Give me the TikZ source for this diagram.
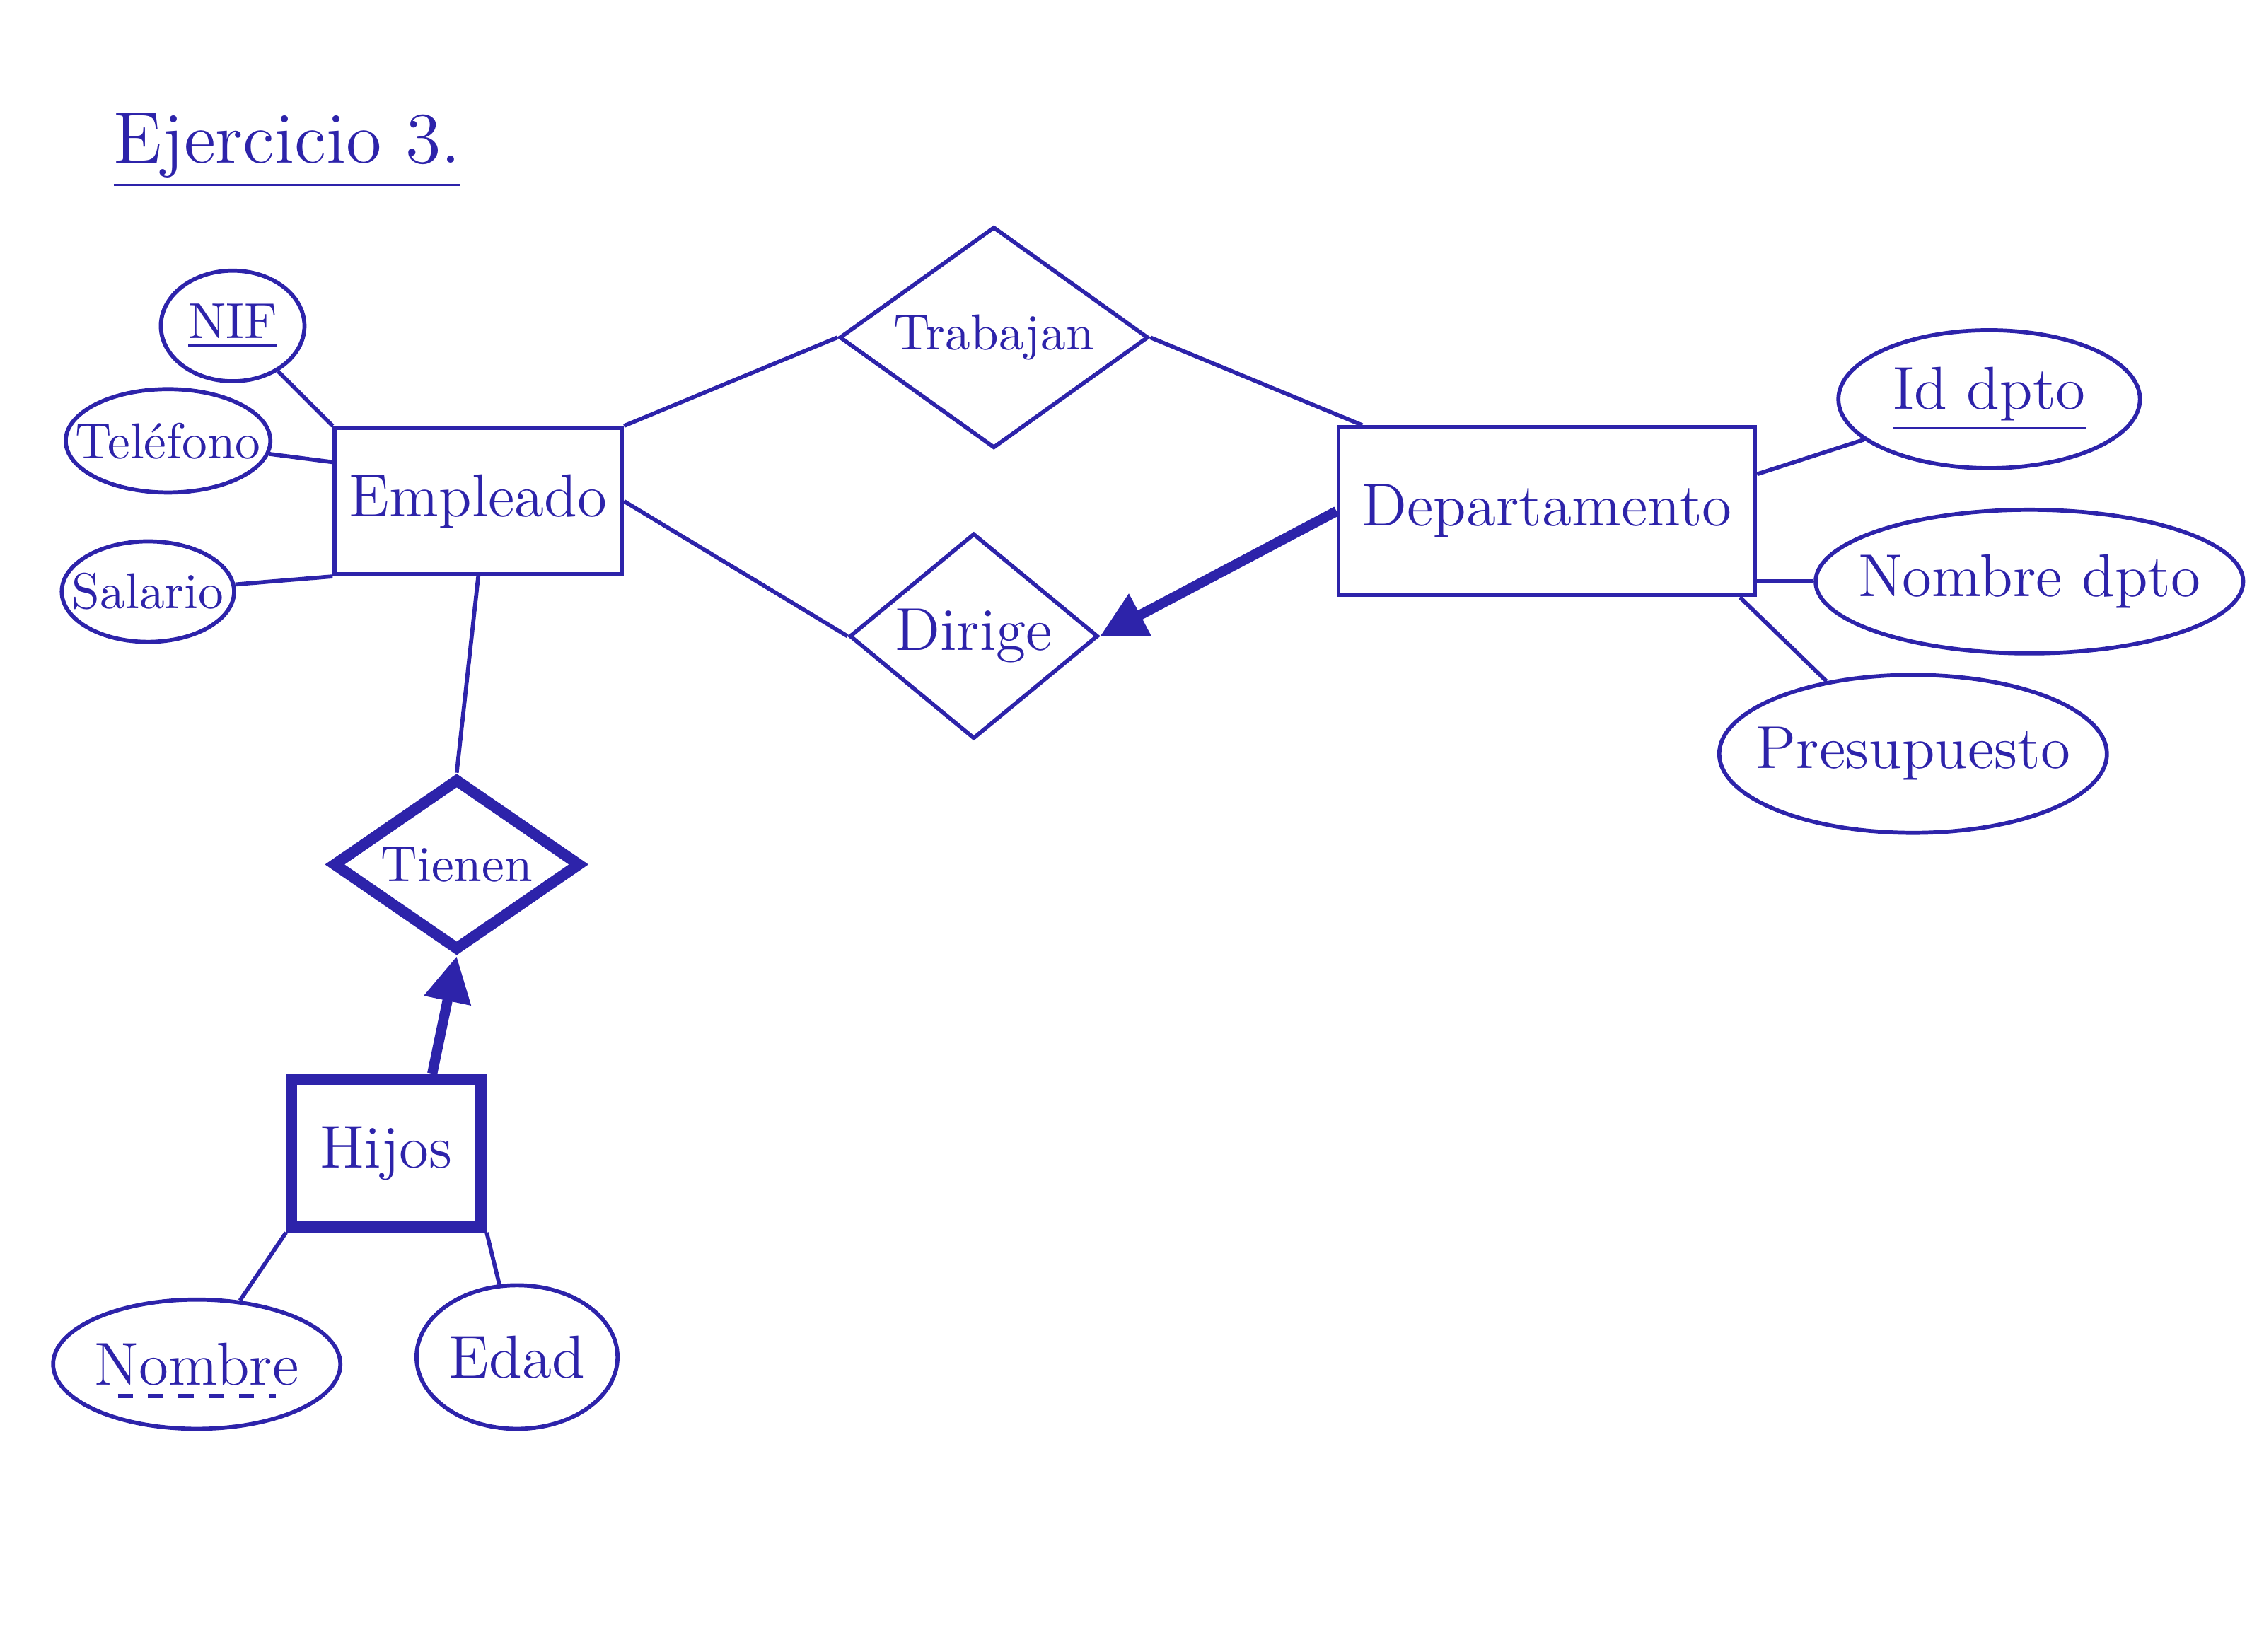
\documentclass[tikz,border=0pt]{standalone}
\usepackage{tikz}
\usetikzlibrary{arrows.meta,calc,positioning,shapes.geometric}
\usepackage{xcolor}
\definecolor{ink}{RGB}{45,35,170}

\begin{document}
\begin{tikzpicture}[every node/.style={font=\large, text=ink},
  entity/.style={draw=ink, thick, rectangle, inner sep=0pt},
  weakent/.style={draw=ink, line width=2.2pt, rectangle, inner sep=0pt},
  attr/.style={draw=ink, thick, ellipse, inner xsep=-4pt, font=\normalsize},
  rel/.style={draw=ink, thick, diamond, aspect=1.4, inner sep=0pt, font=\normalsize},
  weakrel/.style={draw=ink, line width=2.2pt, diamond, aspect=1.4, inner sep=0pt, font=\normalsize},
  link/.style={draw=ink, thick},
  card/.style={draw=ink, line width=2pt, -{Triangle[length=9pt,width=9pt]}}]
  \useasboundingbox (0,0) rectangle (15.68,11.5);
  \node (title) at (2.0,10.45) {\Large\underline{Ejercicio 3.}};
  % entities
  \node[entity, minimum width=2.0cm, minimum height=1.02cm] (emp) at (3.33,8.01) {Empleado};
  \node[entity, minimum width=2.9cm, minimum height=1.17cm] (dep) at (10.77,7.94) {Departamento};
  \node[weakent, minimum width=1.32cm, minimum height=1.03cm] (hijos) at (2.69,3.47) {Hijos};
  % relationships
  \node[rel, minimum width=2.15cm, minimum height=1.54cm] (trab) at (6.92,9.15) {Trabajan};
  \node[rel, minimum width=1.73cm, minimum height=1.43cm] (dir) at (6.78,7.07) {\large Dirige};
  \node[weakrel, minimum width=1.73cm, minimum height=1.2cm] (tien) at (3.18,5.48) {Tienen};
  % attributes
  \node[attr, minimum width=1.0cm, minimum height=0.62cm] (nif) at (1.62,9.23) {\underline{NIF}};
  \node[attr, minimum width=1.3cm, minimum height=0.72cm] (tel) at (1.17,8.43) {Teléfono};
  \node[attr, minimum width=1.2cm, minimum height=0.7cm] (sal) at (1.03,7.38) {Salario};
  \node[attr, minimum width=2.1cm, minimum height=0.9cm] (iddep) at (13.85,8.72) {\large\underline{Id dpto}};
  \node[attr, minimum width=2.85cm, minimum height=1.0cm] (nomdep) at (14.13,7.45) {\large Nombre dpto};
  \node[attr, minimum width=2.3cm, minimum height=1.1cm] (pres) at (13.32,6.25) {\large Presupuesto};
  \node[attr, minimum width=2.0cm, minimum height=0.9cm] (nomhijo) at (1.37,2.0) {\large Nombre};
  \draw[ink, thick, dashed] ($(nomhijo.center)+(-0.55,-0.22)$) coordinate (ul1) -- ($(nomhijo.center)+(0.55,-0.22)$) coordinate (ul2);
  \node[attr, minimum width=1.4cm, minimum height=1.0cm] (edad) at (3.60,2.05) {\large Edad};
  % connectors
  \draw[link] (nif) -- (emp.north west);
  \draw[link] (tel) -- (emp.165);
  \draw[link] (sal) -- (emp.south west);
  \draw[link] (emp.north east) -- (trab.west);
  \draw[link] (trab.east) -- (dep.155);
  \draw[link] (emp.east) -- (dir.west);
  \draw[card] (dep.west) -- (dir.east);
  \draw[link] (dep.10) -- (iddep);
  \draw[link] (dep.east |- nomdep.west) -- (nomdep.west);
  \draw[link] ($(dep.south east)+(-0.12,0)$) coordinate (dse) -- (pres.140);
  \draw[link] (emp.south) -- (tien.north);
  \draw[card] (hijos.60) -- (tien.south);
  \draw[link] (hijos.south west) -- (nomhijo);
  \draw[link] (hijos.south east) -- (edad);
\end{tikzpicture}
\end{document}
